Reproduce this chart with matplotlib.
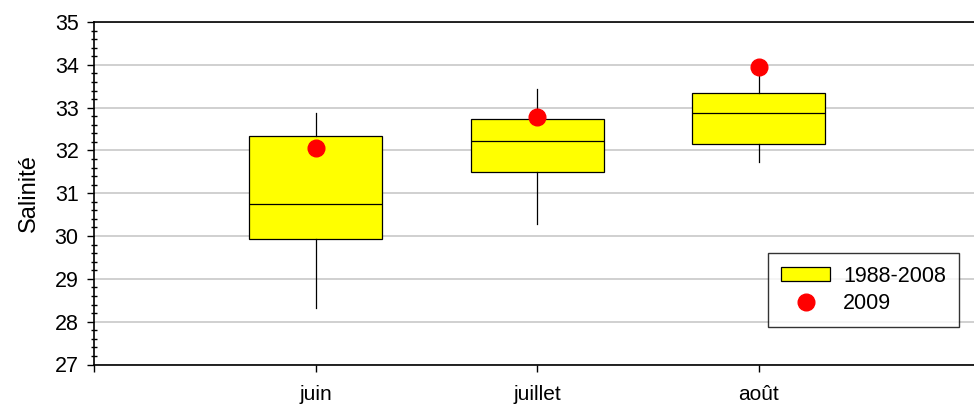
import matplotlib
matplotlib.use("Agg")
import matplotlib.pyplot as plt
from matplotlib.patches import Patch
from matplotlib.lines import Line2D
from matplotlib.ticker import MultipleLocator

plt.rcParams['font.family'] = ['Liberation Sans', 'DejaVu Sans']

# monthly salinity, 1988-2008 distribution + 2009 value
months = ['juin', 'juillet', 'août']
whisk_lo = [28.33, 30.28, 31.72]
q1 = [29.92, 31.49, 32.16]
median = [30.75, 32.21, 32.87]
q3 = [32.33, 32.73, 33.35]
whisk_hi = [32.87, 33.43, 33.90]
sal_2009 = [32.06, 32.77, 33.96]

positions = [1, 2, 3]
stats = [dict(whislo=lo, q1=a, med=m, q3=b, whishi=hi)
         for lo, a, m, b, hi in zip(whisk_lo, q1, median, q3, whisk_hi)]

fig = plt.figure(figsize=(9.74, 4.05), dpi=100)
ax = fig.add_axes([94/974, 40.5/405, 880/974, 342.5/405])

ax.bxp(stats, positions=positions, widths=0.6, showfliers=False, showcaps=False,
       patch_artist=True,
       boxprops=dict(facecolor='#ffff00', edgecolor='black', linewidth=0.9),
       whiskerprops=dict(color='black', linewidth=0.9),
       medianprops=dict(color='black', linewidth=0.9),
       zorder=2)
ax.plot(positions, sal_2009, 'o', color='#ff0000', ms=12, zorder=3)

ax.set_xlim(0, 3.97)
ax.set_ylim(27, 35)
ax.set_xticks([0] + positions)
ax.set_xticklabels([''] + months, fontsize=15)
ax.yaxis.set_major_locator(MultipleLocator(1))
ax.yaxis.set_minor_locator(MultipleLocator(0.2))
ax.tick_params(axis='y', which='major', direction='out', length=5, width=1,
               labelsize=15.5, pad=6)
ax.tick_params(axis='y', which='minor', direction='inout', length=4.5, width=1)
ax.tick_params(axis='x', which='major', direction='out', length=5, width=1, pad=10)
ax.grid(axis='y', which='major', color='#c8c8c8', linewidth=1.2, zorder=0)
ax.set_axisbelow(True)

for side in ['left', 'bottom', 'top']:
    ax.spines[side].set_color('black')
    ax.spines[side].set_linewidth(1.2)
ax.spines['right'].set_visible(False)

ax.set_ylabel('Salinité', fontsize=17, labelpad=11)

handles = [Patch(facecolor='#ffff00', edgecolor='black', linewidth=0.9),
           Line2D([], [], linestyle='none', marker='o', color='#ff0000', ms=12)]
leg = fig.legend(handles, ['1988-2008', '2009'], loc='lower right',
                 bbox_to_anchor=(959/974, 1 - 327/405), fontsize=15.5,
                 frameon=True, fancybox=False, edgecolor='black',
                 handlelength=2.3, handleheight=0.6, handletextpad=0.6,
                 labelspacing=0.3, borderpad=0.6, borderaxespad=0)
leg.get_frame().set_linewidth(1.0)

fig.savefig('out.png', dpi=100)
